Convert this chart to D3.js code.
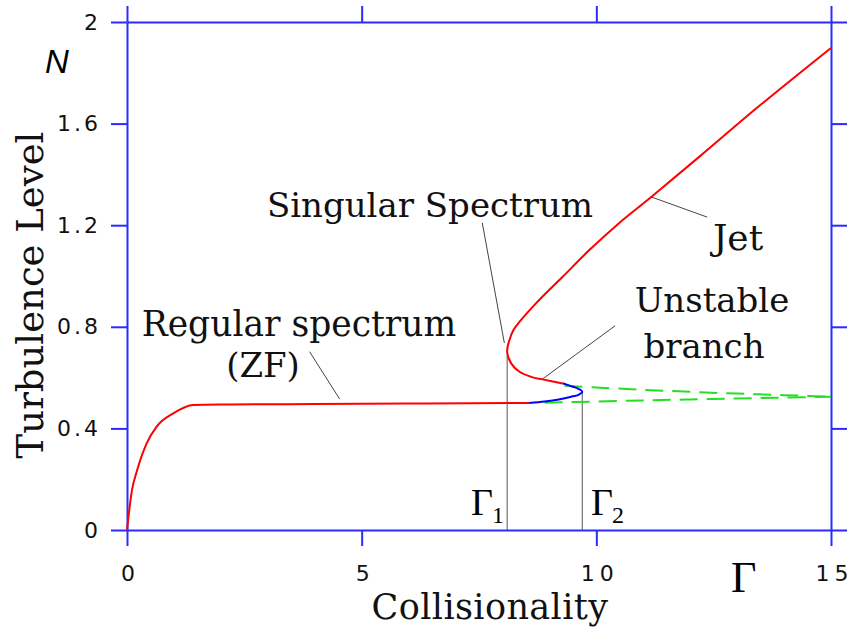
<!DOCTYPE html>
<html lang="en">
<head>
  <meta charset="UTF-8">
  <script src="https://d3js.org/d3.v7.min.js"></script>
  <title>Turbulence Level vs Collisionality</title>
  <style>
    body { margin: 0; background: white; }
    .serif { font-family: "DejaVu Serif", "Liberation Serif", serif; fill: #111; }
  </style>
</head>
<body>
  <div id="chart"></div>
  <script>
    // lower stable branch (regular spectrum, ZF)
    const lowGamma = [0, 0.106, 0.206, 0.419, 0.632, 0.985, 1.411, 2.2, 4, 6, 8.57];
    const lowN     = [0, 0.157, 0.229, 0.341, 0.407, 0.459, 0.492, 0.494, 0.496, 0.498, 0.5];

    // unstable branch (blue)
    const unstGamma = [8.57, 8.9, 9.2, 9.45, 9.62, 9.70, 9.62, 9.5, 9.28];
    const unstN     = [0.5, 0.506, 0.514, 0.524, 0.532, 0.545, 0.556, 0.564, 0.578];

    // upper branch (singular spectrum -> jet)
    const upGamma = [9.283, 8.858, 8.645, 8.362, 8.185, 8.10, 8.149, 8.234, 8.362, 8.723, 9.277, 9.851, 10.489, 11.17, 12.191, 13.468, 15.0];
    const upN     = [0.577, 0.593, 0.601, 0.623, 0.656, 0.702, 0.748, 0.787, 0.819, 0.894, 0.996, 1.102, 1.209, 1.311, 1.469, 1.669, 1.898];

    // green dashed continuations
    const dashUpGamma = [9.32, 10, 11, 12, 13, 14, 15];
    const dashUpN     = [0.568, 0.561, 0.552, 0.544, 0.537, 0.531, 0.525];
    const dashLoGamma = [8.9, 10, 11, 12, 13, 14, 15];
    const dashLoN     = [0.501, 0.506, 0.51, 0.514, 0.518, 0.521, 0.525];

    // critical points
    const gamma1 = [8.10, 0.70];
    const gamma2 = [9.70, 0.545];

    // annotation leader lines [G0, N0, G1, N1]
    const leaders = [
      [7.57, 1.209, 8.04, 0.736],   // singular spectrum
      [8.85, 0.594, 10.40, 0.804],  // unstable branch
      [11.16, 1.312, 12.36, 1.232], // jet
      [3.89, 0.702, 4.53, 0.516]    // regular spectrum
    ];

    const xTicks = [0, 5, 10, 15];
    const xTickLabels = ["0", "5", "10", "15"];
    const yTicks = [0, 0.4, 0.8, 1.2, 1.6, 2];
    const yTickLabels = ["0", "0.4", "0.8", "1.2", "1.6", "2"];

    const width = 855, height = 633;
    const axisBlue = "#2b2bff";

    const svg = d3.select("#chart").append("svg")
      .attr("width", width)
      .attr("height", height);

    const x = d3.scaleLinear().domain([0, 15]).range([127, 831]);
    const y = d3.scaleLinear().domain([0, 2]).range([530, 22]);

    const zip = (a, b) => a.map((v, i) => [v, b[i]]);

    // axes, all four sides
    const styleAxis = (g, spacing) => {
      g.attr("font-size", null).attr("font-family", null);
      g.selectAll("path.domain").attr("stroke", axisBlue).attr("stroke-width", 2);
      g.selectAll(".tick line").attr("stroke", axisBlue).attr("stroke-width", 2);
      g.selectAll(".tick text")
        .attr("font-family", "'DejaVu Sans', Verdana, sans-serif")
        .attr("font-size", 22)
        .attr("letter-spacing", spacing || 3)
        .attr("fill", "#111");
    };

    svg.append("g")
      .attr("transform", `translate(0,${y(0)})`)
      .call(d3.axisBottom(x).tickValues(xTicks).tickFormat((d, i) => xTickLabels[i])
        .tickSize(16).tickSizeOuter(0).tickPadding(19))
      .call(styleAxis, 5)
      .selectAll(".tick text").attr("dx", "3px");

    svg.append("g")
      .attr("transform", `translate(0,${y(2)})`)
      .call(d3.axisTop(x).tickValues(xTicks).tickFormat("").tickSize(16).tickSizeOuter(0))
      .call(styleAxis);

    svg.append("g")
      .attr("transform", `translate(${x(0)},0)`)
      .call(d3.axisLeft(y).tickValues(yTicks).tickFormat((d, i) => yTickLabels[i])
        .tickSize(16).tickSizeOuter(0).tickPadding(10))
      .call(styleAxis, 3);

    svg.append("g")
      .attr("transform", `translate(${x(15)},0)`)
      .call(d3.axisRight(y).tickValues(yTicks).tickFormat("").tickSize(16).tickSizeOuter(0))
      .call(styleAxis);

    // thin vertical lines at Gamma1, Gamma2
    [gamma1, gamma2].forEach(p => {
      svg.append("line")
        .attr("x1", x(p[0])).attr("x2", x(p[0]))
        .attr("y1", y(0)).attr("y2", y(p[1]))
        .attr("stroke", "#555").attr("stroke-width", 1);
    });

    // leader lines
    svg.selectAll(".leader")
      .data(leaders)
      .enter()
      .append("line")
      .attr("class", "leader")
      .attr("x1", d => x(d[0])).attr("y1", d => y(d[1]))
      .attr("x2", d => x(d[2])).attr("y2", d => y(d[3]))
      .attr("stroke", "#444").attr("stroke-width", 1);

    const line = d3.line()
      .x(d => x(d[0]))
      .y(d => y(d[1]))
      .curve(d3.curveCatmullRom.alpha(0.5));

    const lineMono = d3.line()
      .x(d => x(d[0]))
      .y(d => y(d[1]))
      .curve(d3.curveMonotoneX);

    // dashed green
    [zip(dashUpGamma, dashUpN), zip(dashLoGamma, dashLoN)].forEach(pts => {
      svg.append("path")
        .datum(pts)
        .attr("d", line)
        .attr("fill", "none")
        .attr("stroke", "#22e022")
        .attr("stroke-width", 2)
        .attr("stroke-dasharray", "18,9");
    });

    svg.append("path")
      .datum(zip(lowGamma, lowN))
      .attr("d", lineMono)
      .attr("fill", "none").attr("stroke", "red").attr("stroke-width", 2);

    svg.append("path")
      .datum(zip(unstGamma, unstN))
      .attr("d", line)
      .attr("fill", "none").attr("stroke", "blue").attr("stroke-width", 2);

    svg.append("path")
      .datum(zip(upGamma, upN))
      .attr("d", line)
      .attr("fill", "none").attr("stroke", "red").attr("stroke-width", 2);

    // axis titles
    svg.append("text")
      .attr("class", "serif")
      .attr("transform", "translate(43,295) rotate(-90)")
      .attr("text-anchor", "middle")
      .style("font-size", "37px")
      .text("Turbulence Level");

    svg.append("text")
      .attr("class", "serif")
      .attr("x", 490).attr("y", 619)
      .attr("text-anchor", "middle")
      .style("font-size", "35px")
      .style("letter-spacing", "0.4px")
      .text("Collisionality");

    svg.append("text")
      .attr("x", 45).attr("y", 73)
      .style("font-family", "'Liberation Sans', Arial, sans-serif")
      .style("font-style", "italic")
      .style("font-size", "33px")
      .text("N");

    svg.append("text")
      .attr("x", 731).attr("y", 592)
      .style("font-family", "'Liberation Serif', serif")
      .style("font-size", "44px")
      .text("Γ");

    // Gamma1 / Gamma2 labels
    const gLab = (gx, gy, sub) => {
      const t = svg.append("text").attr("x", gx).attr("y", gy)
        .style("font-family", "'Liberation Serif', serif")
        .style("font-size", "38px");
      t.append("tspan").text("Γ");
      t.append("tspan").attr("dy", 8).attr("dx", -1).style("font-size", "24px").text(sub);
    };
    gLab(471, 515, "1");
    gLab(591, 515, "2");

    // annotations
    const note = (tx, ty, s, size) => {
      svg.append("text").attr("class", "serif")
        .attr("x", tx).attr("y", ty)
        .attr("text-anchor", "middle")
        .style("font-size", (size || 34) + "px")
        .text(s);
    };
    note(430, 217, "Singular Spectrum");
    note(299, 336, "Regular spectrum", 34.5);
    note(263, 377, "(ZF)");
    note(738, 250, "Jet", 36);
    note(712, 312, "Unstable");
    note(704, 358, "branch");
  </script>
</body>
</html>
